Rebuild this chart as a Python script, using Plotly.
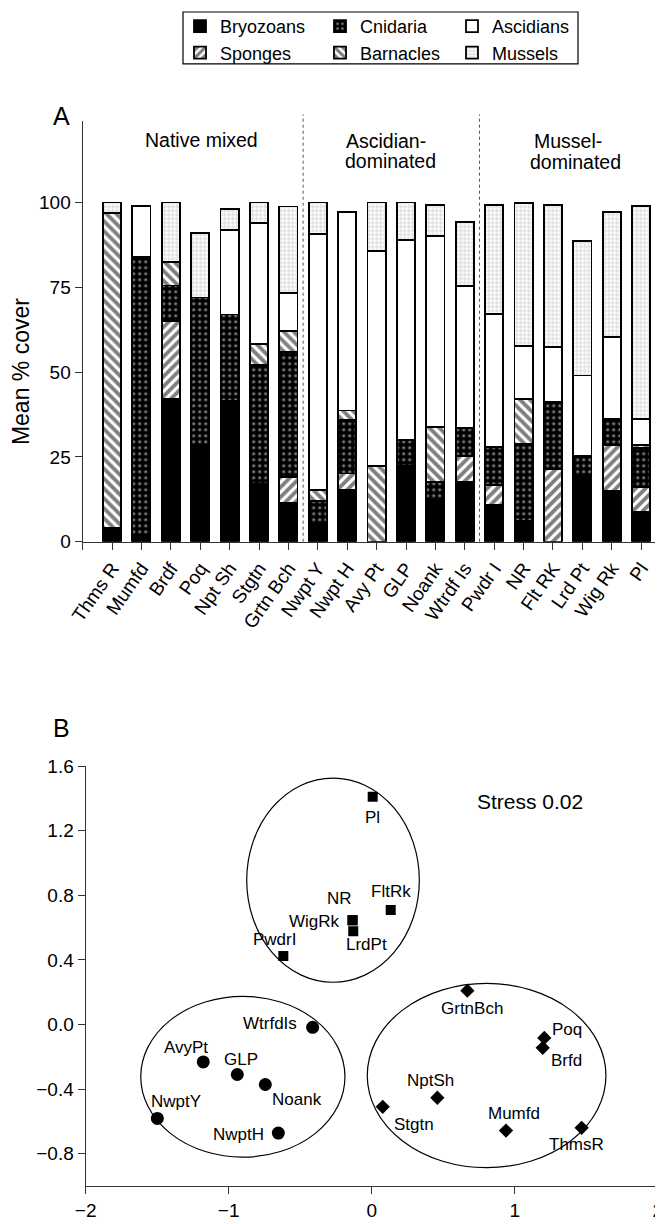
import plotly.graph_objects as go

# page has an 8px body margin: the figure is drawn from (8, 8)
OFF = 8
W, H = 663 - OFF, 1224 - OFF
def px(x):
    return (x - OFF) / W
def py(y):
    return 1 - (y - OFF) / H

# ---------------- Panel A data ----------------
sites = ["Thms R", "Mumfd", "Brdf", "Poq", "Npt Sh", "Stgtn", "Grtn Bch",
         "Nwpt Y", "Nwpt H", "Avy Pt", "GLP", "Noank", "Wtrdf Is",
         "Pwdr I", "NR", "Flt RK", "Lrd Pt", "Wig Rk", "Pl"]
bryozoans = [4, 2, 42, 28.5, 41.5, 17, 11.3, 5, 15.2, 0, 22.4, 12.5, 17.5, 10.8, 5.4, 0, 19.1, 14.9, 8.8]
sponges   = [0, 0, 23, 0, 0, 0, 7.8, 0, 4.9, 0, 0, 0, 7.8, 5.9, 0.6, 21.4, 0, 13.5, 7.2]
cnidaria  = [0, 82, 10.5, 43.5, 25.5, 35, 36.8, 7, 15.7, 0, 7.5, 5.1, 8.2, 11.2, 22.9, 19.8, 6.2, 7.7, 11.6]
barnacles = [93, 0, 7, 0, 0, 6.3, 6.1, 3.2, 2.9, 22.4, 0, 16.2, 0, 0, 13.1, 0, 0, 0, 1]
ascidians = [0, 15, 0, 0, 25, 35.7, 11.3, 75.5, 58.6, 63.4, 59.1, 56.4, 41.8, 39.3, 15.8, 16.2, 23.7, 24.2, 7.5]
mussels   = [3, 0, 17.5, 19, 6, 6, 25.5, 9.3, 0, 14.2, 11, 9.1, 19, 32, 42, 41.8, 39.7, 36.8, 62.9]
y_ticks_a = [0, 25, 50, 75, 100]
dividers = [6.5, 12.5]
group_lines = ["Native mixed", "Ascidian-", "dominated", "Mussel-", "dominated"]

# ---------------- Panel B data ----------------
mussel_sites = ["Pl", "FltRk", "NR", "WigRk", "LrdPt", "PwdrI"]
mussel_x = [0.007, 0.133, -0.133, -0.135, -0.129, -0.618]
mussel_y = [1.41, 0.709, 0.647, 0.645, 0.577, 0.425]
ascidian_sites = ["WtrfdIs", "AvyPt", "GLP", "Noank", "NwptY", "NwptH"]
ascidian_x = [-0.413, -1.178, -0.940, -0.744, -1.499, -0.653]
ascidian_y = [-0.017, -0.231, -0.309, -0.371, -0.581, -0.672]
native_sites = ["GrtnBch", "Poq", "Brfd", "NptSh", "Stgtn", "Mumfd", "ThmsR"]
native_x = [0.669, 1.207, 1.196, 0.459, 0.077, 0.939, 1.468]
native_y = [0.210, -0.083, -0.144, -0.453, -0.509, -0.656, -0.639]
# group ellipses (x0, x1, y0, y1)
ellipse_mussel = (-0.874, 0.333, 0.262, 1.526)
ellipse_ascid = (-1.615, -0.187, -0.821, 0.175)
ellipse_native = (-0.031, 1.638, -0.886, 0.255)
x_ticks_b = [-2, -1, 0, 1, 2]
y_ticks_b = [-0.8, -0.4, 0.0, 0.4, 0.8, 1.2, 1.6]

FONT = "Liberation Sans, Arial, Helvetica, sans-serif"

styles = {
    "Bryozoans": dict(color="black", pattern=dict(shape=""), legend="legend"),
    "Sponges": dict(color="white", pattern=dict(shape="/", fgcolor="black", bgcolor="white", size=7, solidity=0.55), legend="legend"),
    "Cnidaria": dict(color="black", pattern=dict(shape=".", fgcolor="white", bgcolor="black", size=6, solidity=0.22), legend="legend2"),
    "Barnacles": dict(color="white", pattern=dict(shape="\\", fgcolor="black", bgcolor="white", size=7, solidity=0.55), legend="legend2"),
    "Ascidians": dict(color="white", pattern=dict(shape=""), legend="legend3"),
    "Mussels": dict(color="white", pattern=dict(shape="+", fgcolor="#8a8a8a", bgcolor="white", size=4, solidity=0.3), legend="legend3"),
}
series = [("Bryozoans", bryozoans), ("Sponges", sponges), ("Cnidaria", cnidaria),
          ("Barnacles", barnacles), ("Ascidians", ascidians), ("Mussels", mussels)]

fig = go.Figure()
xs = list(range(len(sites)))
for name, vals in series:
    st = styles[name]
    fig.add_trace(go.Bar(
        x=xs, y=[v if v > 0 else None for v in vals], name=name, width=0.62,
        marker=dict(color=st["color"], line=dict(color="black", width=1.8), pattern=st["pattern"]),
        legend=st["legend"], xaxis="x", yaxis="y", hoverinfo="skip"))

marker_line = dict(width=0)
fig.add_trace(go.Scatter(x=mussel_x, y=mussel_y, mode="markers", xaxis="x2", yaxis="y2",
                         marker=dict(symbol="square", size=10, color="black", line=marker_line), showlegend=False))
fig.add_trace(go.Scatter(x=ascidian_x, y=ascidian_y, mode="markers", xaxis="x2", yaxis="y2",
                         marker=dict(symbol="circle", size=13, color="black", line=marker_line), showlegend=False))
fig.add_trace(go.Scatter(x=native_x, y=native_y, mode="markers", xaxis="x2", yaxis="y2",
                         marker=dict(symbol="diamond", size=11, color="black", line=marker_line), showlegend=False))

label_offsets = {
    "Pl": (0, 21), "FltRk": (0, -19), "NR": (-12.7, -21.7), "WigRk": (-37.7, 0.7),
    "LrdPt": (13.3, 13.3), "PwdrI": (-9, -16),
    "WtrfdIs": (-42.7, -4.3), "AvyPt": (-17.3, -14), "GLP": (4, -15.3), "Noank": (31.3, 15.3),
    "NwptY": (18.3, -17.3), "NwptH": (-40, 1.7),
    "GrtnBch": (4.3, 18.3), "Poq": (22.3, -8.7), "Brfd": (24, 12.7), "NptSh": (-7.3, -17.3),
    "Stgtn": (31.3, 17.3), "Mumfd": (8, -17.3), "ThmsR": (-5, 16.7),
}
annotations = []
for names, xv, yv in [(mussel_sites, mussel_x, mussel_y), (ascidian_sites, ascidian_x, ascidian_y),
                      (native_sites, native_x, native_y)]:
    for n, xx, yy in zip(names, xv, yv):
        dx, dy = label_offsets[n]
        annotations.append(dict(x=xx, y=yy, xref="x2", yref="y2", text=n, showarrow=False,
                                xanchor="center", yanchor="middle",
                                xshift=dx, yshift=-dy, font=dict(size=17, color="black", family=FONT)))

def paper_text(text, x, y, size, angle=0):
    return dict(x=px(x), y=py(y), xref="paper", yref="paper", text=text, showarrow=False,
                xanchor="center", yanchor="middle", textangle=angle,
                font=dict(size=size, color="black", family=FONT))

grp_pos = [(201.7, 137.3), (385.8, 138.3), (390.8, 158), (568, 138.3), (575, 159)]
for g, (gx, gy) in zip(group_lines, grp_pos):
    annotations.append(paper_text(g, gx, gy, 19.5))
annotations += [
    paper_text("A", 61.5, 113, 25),
    paper_text("B", 61.7, 727, 25),
    paper_text("Mean % cover", 21, 370, 23, -90),
    paper_text("Stress 0.02", 530, 800, 21),
]

shapes = []
for d in dividers:
    shapes.append(dict(type="line", xref="x", yref="paper", x0=d, x1=d, y0=py(540), y1=py(111.7),
                       line=dict(color="#555", width=1, dash="dot")))
for (x0, x1, y0, y1) in [ellipse_mussel, ellipse_ascid, ellipse_native]:
    shapes.append(dict(type="circle", xref="x2", yref="y2", x0=x0, x1=x1, y0=y0, y1=y1,
                       line=dict(color="black", width=1.2)))
shapes.append(dict(type="rect", xref="paper", yref="paper", x0=px(183), x1=px(578), y0=py(61), y1=py(9),
                   line=dict(color="black", width=1.2), fillcolor="rgba(0,0,0,0)"))

axis_common = dict(showline=True, linecolor="#333", linewidth=1.3, ticks="outside", ticklen=7,
                   tickcolor="#333", tickwidth=1.3, showgrid=False, zeroline=False,
                   tickfont=dict(size=19, color="black", family=FONT), automargin=False)

leg_common = dict(orientation="v", traceorder="normal", font=dict(size=18, color="black", family=FONT),
                  bgcolor="rgba(0,0,0,0)", borderwidth=0, xanchor="left", yanchor="top",
                  tracegroupgap=0, itemwidth=30)

fig.update_layout(
    width=W, height=H, autosize=False,
    margin=dict(l=0, r=0, t=0, b=0),
    paper_bgcolor="white", plot_bgcolor="white",
    barmode="stack", bargap=0.38,
    font=dict(family=FONT, color="black"),
    xaxis=dict(domain=[px(82.7), px(656.7)], range=[-1, 18.53],
               tickvals=[-1] + xs, ticktext=[""] + sites, tickangle=-55, **axis_common),
    yaxis=dict(domain=[py(540), py(118)], range=[0, 124.1], tickvals=y_ticks_a, **axis_common),
    xaxis2=dict(domain=[px(85.7), px(657.7)], range=[-2, 2], tickvals=x_ticks_b, anchor="y2",
                **axis_common),
    yaxis2=dict(domain=[py(1186), py(765)], range=[-1.0, 1.6], tickvals=y_ticks_b, tickformat=".1f",
                anchor="x2", **axis_common),
    legend=dict(x=px(180), y=py(5), **leg_common),
    legend2=dict(x=px(320), y=py(5), **leg_common),
    legend3=dict(x=px(452), y=py(5), **leg_common),
    annotations=annotations, shapes=shapes,
)

fig.write_html("out.html")
